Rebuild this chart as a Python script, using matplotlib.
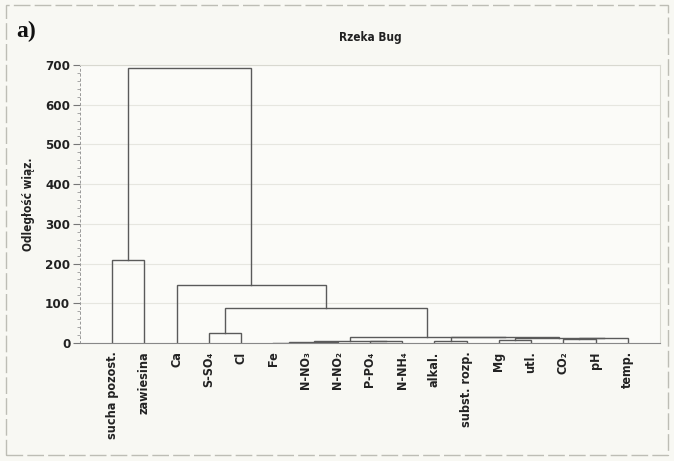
import matplotlib
matplotlib.use('Agg')
import matplotlib.pyplot as plt
from matplotlib.patches import Rectangle

# leaves in the order they appear on the axis
leaves = ["sucha pozost.", "zawiesina", "Ca", "S-SO₄", "Cl", "Fe", "N-NO₃",
          "N-NO₂", "P-PO₄", "N-NH₄", "alkal.", "subst. rozp.", "Mg", "utl.",
          "CO₂", "pH", "temp."]

# merges like a linkage table: (left node, right node, distance)
# node ids 0..16 are leaves, every merge makes a new id starting at 17
merge_left = [5, 17, 8, 18, 10, 12, 14, 23, 22, 21, 20, 3, 28, 2, 0, 31]
merge_right = [6, 7, 9, 19, 11, 13, 15, 16, 24, 25, 26, 4, 27, 29, 1, 30]
merge_dist = [1, 3, 4, 6, 5, 8, 9, 12, 13, 14, 16, 25, 87, 147, 210, 692]

yticks = [0, 100, 200, 300, 400, 500, 600, 700]

plt.rcParams['font.family'] = ['DejaVu Sans']
plt.rcParams['font.stretch'] = 'condensed'
plt.rcParams['font.weight'] = 'bold'

fig = plt.figure(figsize=(6.74, 4.61), dpi=100, facecolor='#f8f8f3')
W, H = 674, 461
ax = fig.add_axes([80 / W, 1 - 343 / H, 580 / W, 278 / H])
ax.set_facecolor('#fbfbf8')

n = len(leaves)
pos = {i: float(i) for i in range(n)}
height = {i: 0.0 for i in range(n)}
line_col = '#5a5a5a'
for k, (a, b, d) in enumerate(zip(merge_left, merge_right, merge_dist)):
    node = n + k
    xa, xb = pos[a], pos[b]
    ax.plot([xa, xa, xb, xb], [height[a], d, d, height[b]],
            color=line_col, lw=1.0, solid_joinstyle='miter')
    pos[node] = (xa + xb) / 2
    height[node] = d

ax.set_xlim(-1, n)
ax.set_ylim(0, 700)

ax.set_xticks(range(n))
ax.set_xticklabels(leaves, rotation=90, fontsize=9, fontweight='bold',
                   color='#222222', va='top')
ax.tick_params(axis='x', length=0, pad=6)

ax.set_yticks(yticks)
ax.set_yticklabels([str(v) for v in yticks], fontsize=9.5, fontweight='bold',
                   color='#222222')
ax.set_yticks(range(0, 701, 20), minor=True)
ax.tick_params(axis='y', which='major', length=5, width=0.8, color='#777777', pad=2)
ax.tick_params(axis='y', which='minor', length=2, width=0.6, color='#999999')

ax.grid(axis='y', color='#e6e6e0', lw=0.8)
ax.set_axisbelow(True)
for side in ['top', 'right']:
    ax.spines[side].set_color('#d8d8d0')
    ax.spines[side].set_linewidth(0.8)
ax.spines['left'].set_color('#999999')
ax.spines['left'].set_linestyle((0, (2, 3)))
ax.spines['left'].set_linewidth(0.7)
ax.spines['bottom'].set_color('#888888')
ax.spines['bottom'].set_linewidth(0.8)

ax.set_ylabel("Odległość wiąz.", fontsize=8.5, fontweight='bold', color='#222222',
              labelpad=7)
ax.set_title("Rzeka Bug", fontsize=8.5, fontweight='bold', color='#222222', pad=17)

fig.text(16 / W, 1 - 31 / H, "a)", fontsize=17, fontweight='bold', fontstretch='normal',
         family=['Liberation Serif', 'DejaVu Serif'], va='center', color='#111111')

# scanned page frame
fig.patches.append(Rectangle((6 / W, 6 / H), 662 / W, 450 / H, transform=fig.transFigure,
                             fill=False, edgecolor='#bdbdb5', lw=1.0, ls=(0, (12, 3))))

fig.savefig('out.png', dpi=100, facecolor=fig.get_facecolor())
